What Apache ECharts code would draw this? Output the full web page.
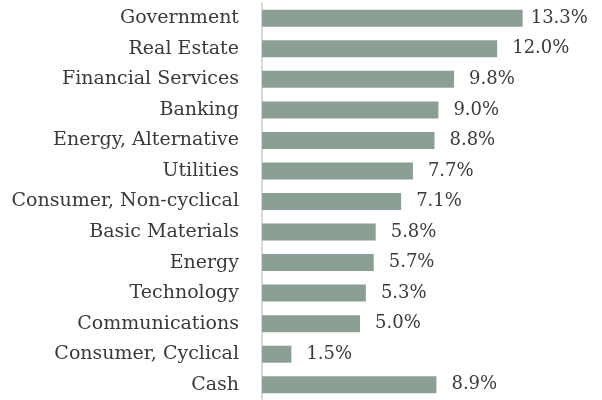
<!DOCTYPE html>
<html><head><meta charset="utf-8">
<script src="https://cdn.jsdelivr.net/npm/echarts@6/dist/echarts.min.js"></script>
<style>html,body{margin:0;padding:0;background:#fff}#c{width:602px;height:400px}</style>
</head><body><div id="c"></div>
<script>
const categories = ["Government","Real Estate","Financial Services","Banking","Energy, Alternative","Utilities","Consumer, Non-cyclical","Basic Materials","Energy","Technology","Communications","Consumer, Cyclical","Cash"];
const values = [13.3,12.0,9.8,9.0,8.8,7.7,7.1,5.8,5.7,5.3,5.0,1.5,8.9];
const FONT = "DejaVu Serif";
const seriesData = values.map((v,i)=> i===0 ? {value:v,label:{distance:8}} : v);
const chart = echarts.init(document.getElementById('c'), null, {renderer:'canvas'});
chart.setOption({
  animation:false,
  grid:{left:262,right:46,top:3,bottom:-2},
  xAxis:{type:'value',min:0,max:15,show:false},
  yAxis:{type:'category',inverse:true,data:categories,
    axisLine:{show:true,lineStyle:{color:'#d9d9d9',width:2}},
    axisTick:{show:false},
    axisLabel:{margin:23,color:'#3a3a3a',fontFamily:FONT,fontSize:19}},
  series:[{type:'bar',data:seriesData,barWidth:17,
    itemStyle:{color:'#8c9f95'},
    label:{show:true,position:'right',distance:15,color:'#3a3a3a',fontFamily:FONT,fontSize:18,
      formatter:p=>p.value.toFixed(1)+'%'}}]
});
</script></body></html>
